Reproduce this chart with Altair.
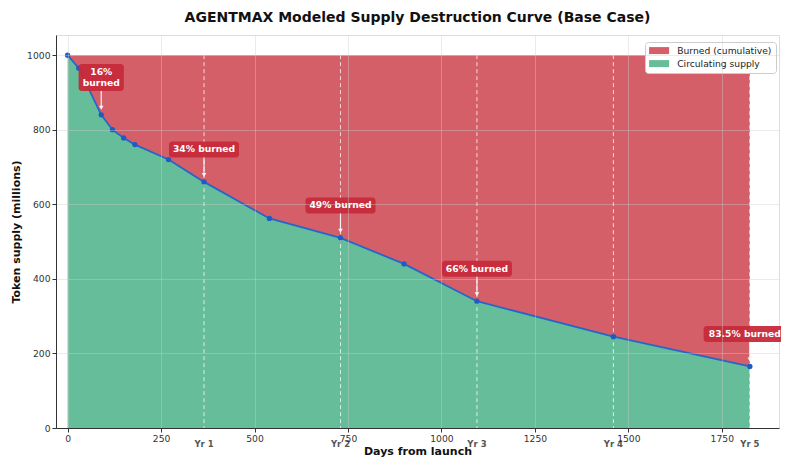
import altair as alt
import pandas as pd

# ---- data ----
days = [0, 30, 90, 120, 150, 180, 270, 365, 540, 730, 900, 1095, 1460, 1825]
supply = [1000, 965, 840, 800, 778, 760, 720, 660, 562, 510, 440, 340, 245, 165]
total_supply = 1000

series_names = ["Burned (cumulative)", "Circulating supply"]

label_days = [90, 365, 730, 1095, 1825]
label_supply = [840, 660, 510, 340, 165]
label_y = [940, 747, 597, 427, 252]
label_text = ["16%\nburned", "34% burned", "49% burned", "66% burned", "83.5% burned"]

year_days = [365, 730, 1095, 1460, 1825]
year_labels = ["Yr 1", "Yr 2", "Yr 3", "Yr 4", "Yr 5"]

x_ticks = [0, 250, 500, 750, 1000, 1250, 1500, 1750]
y_ticks = [0, 200, 400, 600, 800, 1000]

# ---- tables ----
burned_df = pd.DataFrame({"day": days, "hi": [total_supply] * len(days), "lo": supply,
                          "series": series_names[0]})
circ_df = pd.DataFrame({"day": days, "hi": supply, "lo": [0] * len(days),
                        "series": series_names[1]})
curve_df = pd.DataFrame({"day": days, "supply": supply})
year_df = pd.DataFrame({"day": year_days, "label": year_labels,
                        "top": total_supply, "bottom": 0})

FONT = "DejaVu Sans"
RED = "#d45f68"
GREEN = "#66bd99"
BLUE = "#2466cc"
BOX = "#c62a3a"

xscale = alt.Scale(domain=[-31, 1903], nice=False, zero=False)
yscale = alt.Scale(domain=[0, 1054], nice=False)
cscale = alt.Scale(domain=series_names, range=[RED, GREEN])

common_axis = dict(titleFontWeight="bold", titleFontSize=11, titleFont=FONT,
                   titleColor="#111", labelFont=FONT, labelFontSize=9.2,
                   labelColor="#333", tickColor="#333", tickSize=4,
                   domainColor="#333", grid=True, gridColor="#cccccc",
                   gridOpacity=0.4, zindex=1, labelPadding=2, format="d")
xaxis = alt.Axis(values=x_ticks, title="Days from launch", titlePadding=2, **common_axis)
yaxis = alt.Axis(values=y_ticks, title="Token supply (millions)", titlePadding=5, **common_axis)

legend = alt.Legend(title=None, orient="none", legendX=589, legendY=7,
                    fillColor="white", strokeColor="#cccccc",
                    padding=4, cornerRadius=3, labelFont=FONT,
                    labelFontSize=9.2, labelColor="#222",
                    symbolType="M-2.86,-1L2.86,-1L2.86,1L-2.86,1Z",
                    symbolSize=49, symbolStrokeWidth=0, symbolOpacity=1,
                    symbolOffset=5.5, labelOffset=13.5, rowPadding=3)

burned = alt.Chart(burned_df).mark_area(opacity=1).encode(
    x=alt.X("day:Q", scale=xscale, axis=xaxis),
    y=alt.Y("hi:Q", scale=yscale, axis=yaxis),
    y2="lo:Q",
    color=alt.Color("series:N", scale=cscale, legend=legend),
)
circ = alt.Chart(circ_df).mark_area(opacity=1).encode(
    x="day:Q",
    y="hi:Q",
    y2="lo:Q",
    color=alt.Color("series:N", scale=cscale, legend=legend),
)

year_rules = alt.Chart(year_df).mark_rule(color="white", strokeDash=[4, 3], opacity=0.75,
                                          strokeWidth=1).encode(
    x="day:Q", y="top:Q", y2="bottom:Q")

year_text = alt.Chart(year_df).mark_text(font=FONT, fontSize=8.5, fontWeight="bold",
                                         color="#555", dy=16, baseline="middle").encode(
    x="day:Q", y="bottom:Q", text="label:N")

line = alt.Chart(curve_df).mark_line(color=BLUE, strokeWidth=1.8).encode(
    x="day:Q", y="supply:Q")
pts = alt.Chart(curve_df).mark_circle(color="#1f5bc4", size=28, opacity=1).encode(
    x="day:Q", y="supply:Q")

layers = [burned, circ, year_rules, line, pts, year_text]

last_day = max(label_days)
for d, s, ly, t in zip(label_days, label_supply, label_y, label_text):
    one = pd.DataFrame({"day": [d], "supply": [s], "ly": [ly], "text": [t]})
    parts = t.split("\n")
    w = 6.2 * max(len(x) for x in parts) + 8
    h = 11 * len(parts) + 5
    shift = -5 if d == last_day else 0   # keep the edge label inside the page
    base = alt.Chart(one)
    arrow = base.mark_rule(color="#f4f4f4", strokeWidth=1.2, y2Offset=-7).encode(
        x="day:Q", y="ly:Q", y2="supply:Q")
    head = base.mark_point(shape="triangle-down", filled=True, color="#f4f4f4",
                           size=22, opacity=1, yOffset=-7).encode(x="day:Q", y="supply:Q")
    box = base.mark_rect(width=w, height=h, cornerRadius=3, color=BOX, opacity=0.95,
                         xOffset=shift).encode(x="day:Q", y="ly:Q")
    txt = base.mark_text(font=FONT, fontSize=9.2, fontWeight="bold", color="white",
                         lineBreak="\n", baseline="middle", lineHeight=11,
                         dx=shift, dy=-5.5 * (len(parts) - 1)).encode(
        x="day:Q", y="ly:Q", text="text:N")
    layers += [arrow, head, box, txt]

chart = alt.layer(*layers).properties(
    width=723, height=393,
    title=alt.TitleParams("AGENTMAX Modeled Supply Destruction Curve (Base Case)",
                          font=FONT, fontSize=14, fontWeight="bold", color="#111",
                          offset=10, anchor="middle"),
    autosize=alt.AutoSizeParams(type="none"),
    padding={"left": 48, "top": 27, "right": 2, "bottom": 33},
).configure_view(stroke=None).configure(background="white")

chart.save("out.html", embed_options={"renderer": "svg", "actions": False})
